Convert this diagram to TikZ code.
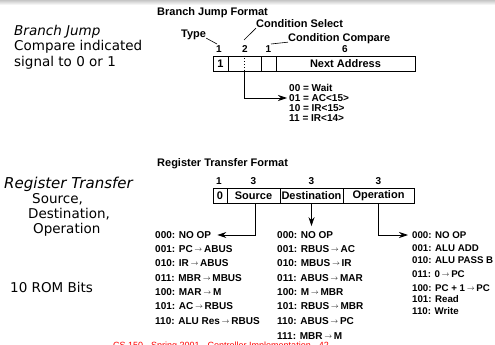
\documentclass[tikz,border=0pt]{standalone}
\usepackage{fontspec}
\setmainfont{Liberation Sans}
\newfontfamily\hand{DejaVu Sans}
\usetikzlibrary{arrows.meta,calc}
\newcommand\ra{\,\raisebox{1.2pt}{\fontsize{7}{8}\selectfont$\rightarrow$}\,}
\begin{document}
\begin{tikzpicture}[x=1pt,y=-1pt,
 lbl/.style={font=\bfseries\fontsize{10}{12}\selectfont, inner sep=0pt, anchor=west, text height=7.2pt, text depth=0pt},
 rlbl/.style={lbl, font=\bfseries\fontsize{9.7}{12}\selectfont},
 ttl/.style={font=\bfseries\fontsize{11}{13}\selectfont, inner sep=0pt, anchor=west, text height=7.9pt, text depth=0pt},
 num/.style={font=\bfseries\fontsize{10}{12}\selectfont, inner sep=0pt, text height=7.2pt, text depth=0pt},
 cell/.style={draw, line width=0.8pt, minimum height=15pt, inner sep=0pt, font=\bfseries\fontsize{11}{13}\selectfont},
 hw/.style={font=\hand\fontsize{13.5}{15}\selectfont, inner sep=0pt, text height=9.8pt, text depth=0pt},
 arr/.style={line width=0.8pt, -{Stealth[length=9pt,width=6pt]}},
 lead/.style={line width=0.6pt}]
\useasboundingbox (0,0) rectangle (495,345);
\clip (0,0) rectangle (495,345);
\shade[top color=gray!45, bottom color=white] (0,0) rectangle (495,5);

% ---------- left handwritten notes
\node[hw, anchor=west] (bjh) at (14,31) {\itshape Branch Jump};
\node[hw, anchor=west] (bj2) at (14,46) {Compare indicated};
\node[hw, anchor=west] (bj3) at (14,62) {signal to 0 or 1};
\node[hw, anchor=west, font=\hand\fontsize{15}{17}\selectfont] (rth) at (4,184) {\itshape Register Transfer};
\node[hw, anchor=west] (rt2) at (32,199) {Source,};
\node[hw, anchor=west] (rt3) at (28,214) {Destination,};
\node[hw, anchor=west] (rt4) at (33,229) {Operation};
\node[hw, anchor=west] (rom) at (10,288) {10 ROM Bits};

% ---------- branch jump format
\node[ttl] (bjt) at (157,12) {Branch Jump Format};
\node[ttl] (type) at (181,34) {Type};
\node[ttl] (csel) at (256,24) {Condition Select};
\node[ttl] (ccmp) at (288,38) {Condition Compare};
\coordinate (typeE) at (217,44);
\coordinate (cselE) at (244,40);
\coordinate (ccmpE) at (271,44);
\draw[lead] (type.south east) -- (typeE);
\draw[lead] (csel.south west) -- (cselE);
\draw[lead] (ccmp.south west) -- (ccmpE);

\node[num] (bn1) at (219,49) {1};
\node[num] (bn2) at (245,49) {2};
\node[num] (bn3) at (268.5,49) {1};
\node[num] (bn4) at (345,49) {6};

\node[cell, minimum width=15pt] (bA) at (220.5,63.5) {1};
\node[cell, minimum width=33pt] (bB) at (244.5,63.5) {};
\node[cell, minimum width=15pt] (bC) at (268.5,63.5) {};
\node[cell, minimum width=139pt] (bD) at (345.5,63.5) {Next Address};
\draw[line width=0.8pt, dotted] (bB.north) -- (bB.south);

\node[lbl] (c00) at (289,88) {00 = Wait};
\node[lbl] (c01) at (289,98) {01 = AC<15>};
\node[lbl] (c10) at (289,108) {10 = IR<15>};
\node[lbl] (c11) at (289,118) {11 = IR<14>};
\draw[arr] (bB.south) |- ([xshift=-2pt]c01.west);

% ---------- register transfer format
\node[ttl] (rtt) at (157,163) {Register Transfer Format};
\node[num] (rn1) at (219,181) {1};
\node[num] (rn2) at (253.5,181) {3};
\node[num] (rn3) at (311.5,181) {3};
\node[num] (rn4) at (378.5,181) {3};

\node[cell, minimum width=14pt] (r0) at (220,195.5) {0};
\node[cell, minimum width=53pt] (src) at (253.5,195.5) {Source};
\node[cell, minimum width=63pt] (dst) at (311.5,195.5) {Destination};
\node[cell, minimum width=71pt] (opr) at (378.5,195.5) {Operation};

% source list
\node[lbl] (s0) at (155,235) {000: NO OP};
\node[lbl] (s1) at (155,249) {001: PC\ra ABUS};
\node[lbl] (s2) at (155,263) {010: IR\ra ABUS};
\node[lbl] (s3) at (155,278) {011: MBR\ra MBUS};
\node[lbl] (s4) at (155,292) {100: MAR\ra M};
\node[lbl] (s5) at (155,306) {101: AC\ra RBUS};
\node[lbl] (s6) at (155,321) {110: ALU Res\ra RBUS};

% destination list
\node[lbl] (d0) at (277,235) {000: NO OP};
\node[lbl] (d1) at (277,249) {001: RBUS\ra AC};
\node[lbl] (d2) at (277,263) {010: MBUS\ra IR};
\node[lbl] (d3) at (277,278) {011: ABUS\ra MAR};
\node[lbl] (d4) at (277,292) {100: M\ra MBR};
\node[lbl] (d5) at (277,306) {101: RBUS\ra MBR};
\node[lbl] (d6) at (277,321) {110: ABUS\ra PC};
\node[lbl] (d7) at (277,336) {111: MBR\ra M};

% operation list
\node[rlbl] (o0) at (412,235) {000: NO OP};
\node[rlbl] (o1) at (412,248) {001: ALU ADD};
\node[rlbl] (o2) at (412,260) {010: ALU PASS B};
\node[rlbl] (o3) at (412,274) {011: 0\ra PC};
\node[rlbl] (o4) at (412,288) {100: PC + 1\ra PC};
\node[rlbl] (o5) at (412,299) {101: Read};
\node[rlbl] (o6) at (412,311) {110: Write};

\draw[arr] ([xshift=2pt]src.south) |- ([xshift=6pt]s0.east);
\draw[arr] (dst.south) -- ([yshift=5pt]dst.south |- d0.north);
\draw[arr] (opr.south) |- ([xshift=-4pt]o0.west);

% footer
\node[font=\fontsize{9}{11}\selectfont, text=red, inner sep=0pt, anchor=base west] (foot) at (113,348) {CS 150 - Spring 2001 - Controller Implementation - 42};
\end{tikzpicture}
\end{document}
